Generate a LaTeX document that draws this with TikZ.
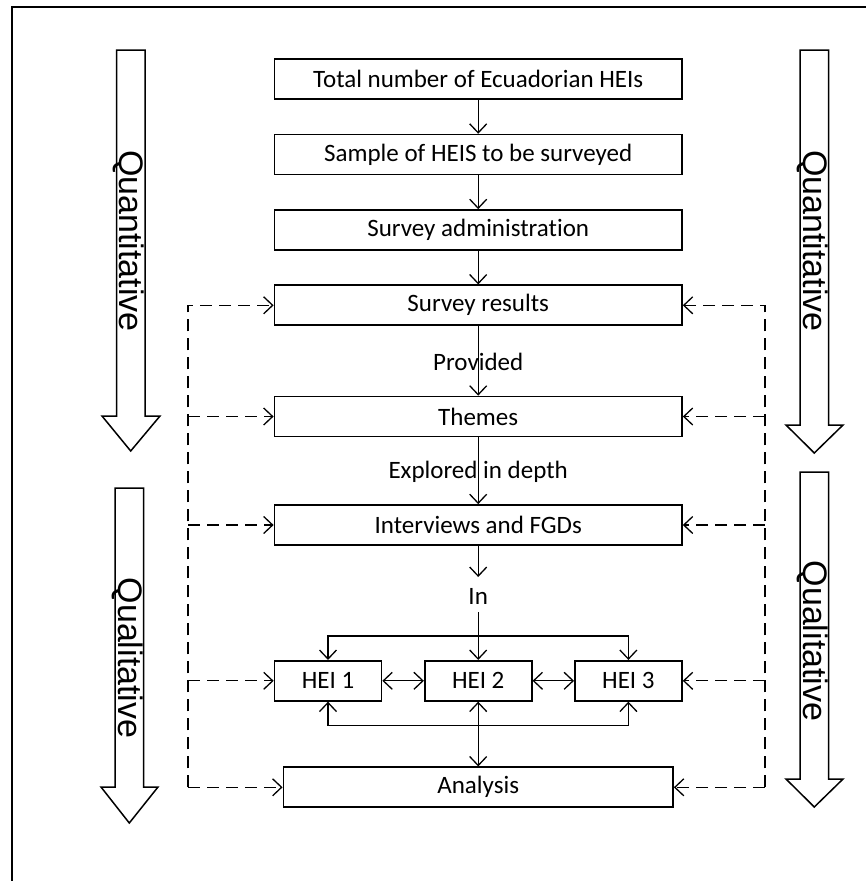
\documentclass[tikz,border=0pt]{standalone}
\usepackage{fontspec}
\setmainfont{Carlito}[Ligatures=NoCommon]
\newfontfamily\arialfont{Liberation Sans}
\usetikzlibrary{arrows.meta}
\begin{document}
\begin{tikzpicture}[x=1pt,y=-1pt,
  >={Straight Barb[length=9pt,width=17pt]},
  box/.style={draw,line width=1.7pt,minimum height=40pt,inner sep=0pt,font=\fontsize{25}{28}\selectfont},
  mainbox/.style={box,minimum width=407.5pt},
  heibox/.style={box,minimum width=107pt},
  lbl/.style={font=\fontsize{25}{28}\selectfont,inner sep=0pt},
  flow/.style={line width=1.3pt,->},
  biflow/.style={line width=1.3pt,<->},
  dflow/.style={line width=1.3pt,->,dash pattern=on 12pt off 7pt},
  bigarrow/.style={draw,line width=1.5pt,fill=white,line join=miter},
  sidetxt/.style={font=\arialfont\fontsize{34}{40}\selectfont,rotate=-90,inner sep=0pt}
]
\useasboundingbox (0,0) rectangle (866,881);
% outer frame
\draw[line width=2.5pt] (12,881) -- (12,7) -- (866,7);

% side arrows
\draw[bigarrow] (116.5,50) -- (145,50) -- (145,416) -- (160,416) -- (130.7,451) -- (102,416) -- (116.5,416) -- cycle;
\node[sidetxt] (quantL) at (129,241) {Quantitative};
\draw[bigarrow] (115,488) -- (143.5,488) -- (143.5,787) -- (158,787) -- (129.3,823) -- (101,787) -- (115,787) -- cycle;
\node[sidetxt] (qualL) at (127.5,658) {Qualitative};
\draw[bigarrow] (800,50) -- (828.5,50) -- (828.5,425) -- (843,425) -- (814.3,453) -- (786,425) -- (800,425) -- cycle;
\node[sidetxt] (quantR) at (812.5,241) {Quantitative};
\draw[bigarrow] (800,472) -- (828.5,472) -- (828.5,779) -- (843,779) -- (814.3,807) -- (786,779) -- (800,779) -- cycle;
\node[sidetxt] (qualR) at (812.5,641) {Qualitative};

% main boxes
\node[mainbox] (total) at (478.2,79) {Total number of Ecuadorian HEIs};
\node[mainbox] (sample) at (478.2,154.6) {Sample of HEIS to be surveyed};
\node[mainbox] (admin) at (478.2,230) {Survey administration};
\node[mainbox] (results) at (478.2,305.3) {Survey results};
\node[mainbox] (themes) at (478.2,416.5) {Themes};
\node[mainbox] (interv) at (478.2,525) {Interviews and FGDs};
\node[heibox] (h1) at (328,680.8) {HEI 1};
\node[heibox] (h2) at (478.2,680.8) {HEI 2};
\node[heibox] (h3) at (628.4,680.8) {HEI 3};
\node[box,minimum width=389.6pt] (analysis) at (478.2,787.3) {Analysis};

% labels
\node[lbl] (in) at (478.2,596.7) {In};
\coordinate (inTop) at (478.2,577);
\coordinate (inBot) at (478.2,612);
\coordinate (tb) at (478.2,636);
\coordinate (bb) at (478.2,725.7);

% vertical flow
\draw[flow] (total) -- (sample);
\draw[flow] (sample) -- (admin);
\draw[flow] (admin) -- (results);
\draw[flow] (results) -- (themes);
\draw[flow] (themes) -- (interv);
\draw[flow] (interv) -- (inTop);
\draw[flow] (inBot) -- (h2);
\draw[flow] (tb) -| (h1.north);
\draw[flow] (tb) -| (h3.north);
\draw[biflow] (h1) -- (h2);
\draw[biflow] (h2) -- (h3);
\draw[flow] (bb) -| (h1.south);
\draw[flow] (bb) -| (h3.south);
\draw[biflow] (h2.south) -- (analysis.north);

\node[lbl] (prov) at (478.2,361.7) {Provided};
\node[lbl] (expl) at (478.2,471.7) {Explored in depth};

% dashed feedback lines
\coordinate (lt) at (188,305.3);
\coordinate (lb) at (188,787.3);
\coordinate (rt) at (765,305.3);
\coordinate (rb) at (765,787.3);
\draw[dflow] (lb) -- (lt) -- (results.west);
\draw[dflow] (lt |- themes) -- (themes.west);
\draw[dflow] (lt |- interv) -- (interv.west);
\draw[dflow] (lt |- h1) -- (h1.west);
\draw[dflow] (lb) -- (analysis.west);
\draw[dflow] (rb) -- (rt) -- (results.east);
\draw[dflow] (rt |- themes) -- (themes.east);
\draw[dflow] (rt |- interv) -- (interv.east);
\draw[dflow] (rt |- h3) -- (h3.east);
\draw[dflow] (rb) -- (analysis.east);
\end{tikzpicture}
\end{document}
